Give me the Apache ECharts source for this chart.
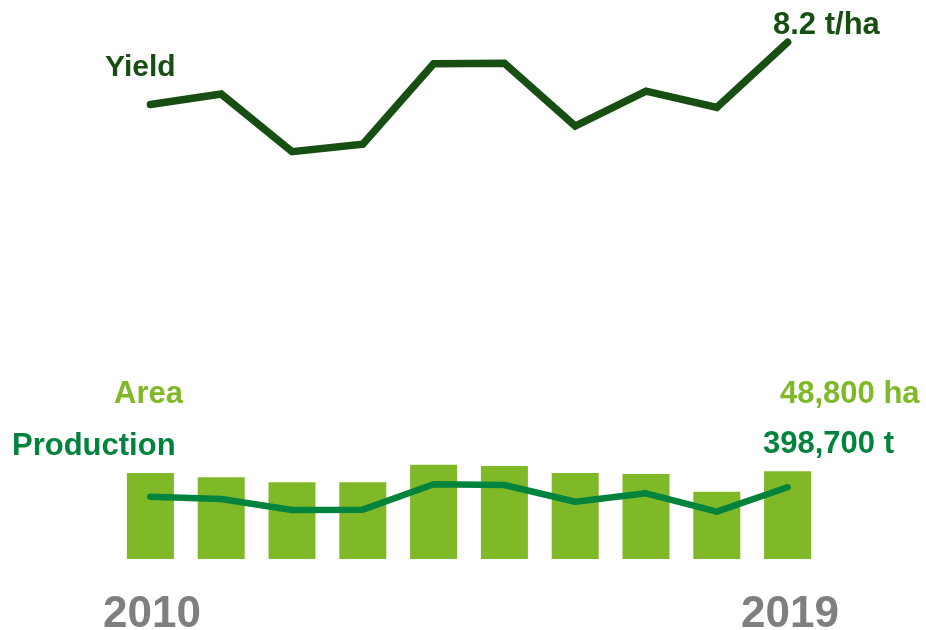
<!DOCTYPE html>
<html>
<head>
<meta charset="utf-8">
<script src="https://cdn.jsdelivr.net/npm/echarts@6/dist/echarts.min.js"></script>
<style>
html,body{margin:0;padding:0;background:#fff;}
#chart{width:926px;height:630px;}
</style>
</head>
<body>
<div id="chart"></div>
<script>
const years = ['2010','2011','2012','2013','2014','2015','2016','2017','2018','2019'];
const yieldValues = [7.13, 7.31, 6.32, 6.45, 7.83, 7.84, 6.76, 7.36, 7.08, 8.2];
const areaValues = [47800, 45400, 42600, 42600, 52400, 51700, 47800, 47200, 37400, 48800];
const productionValues = [346000, 333000, 272000, 274000, 415000, 411000, 318000, 365000, 263000, 398700];
const yearLabels = ['2010', '2019'];

const DARK = '#174f12';
const PROD = '#00843d';
const AREA = '#80b927';
const GREY = '#7f7f7f';
const FONT = 'Liberation Sans, Arial, sans-serif';

const chart = echarts.init(document.getElementById('chart'), null, {renderer: 'canvas'});

// place text by its cap-top position
function t(text, left, capTop, color, size) {
  return { type: 'text', left: left, top: capTop - 0.12 * size + 3,
    style: { text: text, fill: color, font: 'bold ' + size + 'px ' + FONT }, silent: true };
}

const option = {
  animation: false,
  backgroundColor: '#ffffff',
  grid: [
    { left: 115, right: 103, top: 24.8, height: 145.5 },
    { left: 115, right: 103, top: 451, height: 108 }
  ],
  xAxis: [
    { type: 'category', gridIndex: 0, data: years, boundaryGap: true, show: false },
    { type: 'category', gridIndex: 1, data: years, boundaryGap: true, show: false }
  ],
  yAxis: [
    { type: 'value', gridIndex: 0, min: 6, max: 8.5, show: false },
    { type: 'value', gridIndex: 1, min: 0, max: 60000, show: false },
    { type: 'value', gridIndex: 1, min: 0, max: 600000, show: false }
  ],
  series: [
    {
      type: 'line', name: 'Yield', xAxisIndex: 0, yAxisIndex: 0, data: yieldValues,
      symbol: 'none', lineStyle: { color: DARK, width: 7.5, cap: 'round', join: 'miter' }
    },
    {
      type: 'bar', name: 'Area', xAxisIndex: 1, yAxisIndex: 1, data: areaValues,
      barWidth: 47, itemStyle: { color: AREA }
    },
    {
      type: 'line', name: 'Production', xAxisIndex: 1, yAxisIndex: 2, data: productionValues,
      symbol: 'none', lineStyle: { color: PROD, width: 6.5, cap: 'round', join: 'round' }, z: 5
    }
  ],
  graphic: [
    t('Yield', 105, 53.5, DARK, 30),
    t('8.2 t/ha', 773, 10.5, DARK, 31),
    t('Area', 114, 379.5, AREA, 31),
    t('48,800 ha', 780, 379.5, AREA, 31),
    t('Production', 12, 431.5, PROD, 31),
    t('398,700 t', 763, 429.5, PROD, 31),
    t(yearLabels[0], 103, 595, GREY, 44),
    t(yearLabels[1], 741, 595, GREY, 44)
  ]
};

chart.setOption(option);
</script>
</body>
</html>
